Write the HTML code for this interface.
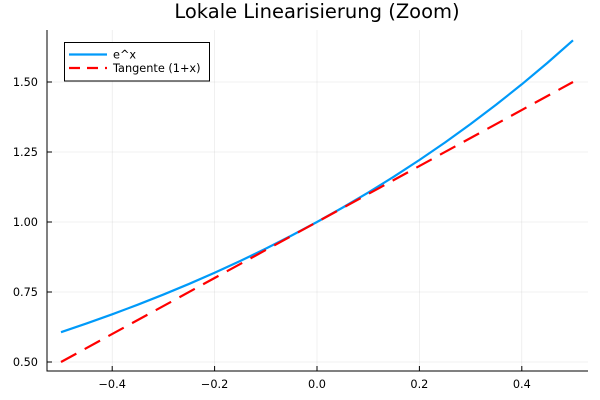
<!DOCTYPE html>
<html><head><meta charset="utf-8"><style>
html,body{margin:0;padding:0;background:#fff;}
svg{display:block;}
text{font-family:"DejaVu Sans","Liberation Sans",sans-serif;fill:#000;}
</style></head><body>
<svg width="600" height="400" viewBox="0 0 600 400" xmlns="http://www.w3.org/2000/svg">
<rect width="600" height="400" fill="#fff"/>
<!-- grid -->
<g stroke="#000" stroke-opacity="0.1" stroke-width="0.6">
<line x1="112.2" y1="30" x2="112.2" y2="371"/>
<line x1="214.6" y1="30" x2="214.6" y2="371"/>
<line x1="317" y1="30" x2="317" y2="371"/>
<line x1="419.4" y1="30" x2="419.4" y2="371"/>
<line x1="521.8" y1="30" x2="521.8" y2="371"/>
<line x1="47" y1="82" x2="588" y2="82"/>
<line x1="47" y1="152" x2="588" y2="152"/>
<line x1="47" y1="222" x2="588" y2="222"/>
<line x1="47" y1="292" x2="588" y2="292"/>
<line x1="47" y1="362" x2="588" y2="362"/>
</g>
<!-- axes -->
<g stroke="#000" stroke-width="1">
<line x1="47" y1="30" x2="47" y2="371.5"/>
<line x1="46.5" y1="371" x2="588" y2="371"/>
<line x1="112.2" y1="371" x2="112.2" y2="366"/>
<line x1="214.6" y1="371" x2="214.6" y2="366"/>
<line x1="317" y1="371" x2="317" y2="366"/>
<line x1="419.4" y1="371" x2="419.4" y2="366"/>
<line x1="521.8" y1="371" x2="521.8" y2="366"/>
<line x1="47" y1="82" x2="52" y2="82"/>
<line x1="47" y1="152" x2="52" y2="152"/>
<line x1="47" y1="222" x2="52" y2="222"/>
<line x1="47" y1="292" x2="52" y2="292"/>
<line x1="47" y1="362" x2="52" y2="362"/>
</g>
<!-- tick labels -->
<g font-size="11.3" text-anchor="end">
<text x="38" y="86">1.50</text>
<text x="38" y="156">1.25</text>
<text x="38" y="226">1.00</text>
<text x="38" y="296">0.75</text>
<text x="38" y="366">0.50</text>
</g>
<g font-size="11.3" text-anchor="middle">
<text x="112.2" y="388">−0.4</text>
<text x="214.6" y="388">−0.2</text>
<text x="317" y="388">0.0</text>
<text x="419.4" y="388">0.2</text>
<text x="521.8" y="388">0.4</text>
</g>
<!-- title -->
<text x="317" y="18" font-size="19.5" text-anchor="middle">Lokale Linearisierung (Zoom)</text>
<!-- series -->
<polyline fill="none" stroke="#009af9" stroke-width="2.2" stroke-linejoin="round" points="61,332.17 86.6,323.46 112.2,314.31 137.8,304.69 163.4,294.57 189,283.94 214.6,272.76 240.2,261.00 265.8,248.64 291.4,235.66 317,222 342.6,207.64 368.2,192.55 393.8,176.69 419.4,160.01 445,142.47 470.6,124.04 496.2,104.66 521.8,84.29 547.4,62.87 573,40.36"/>
<line x1="61" y1="362" x2="573" y2="82" stroke="#ff0000" stroke-width="2.2" stroke-dasharray="17.5 9.5"/>
<!-- legend -->
<rect x="64.5" y="42.5" width="145" height="38.5" fill="#fff" stroke="#000" stroke-width="1"/>
<line x1="69" y1="54.5" x2="107" y2="54.5" stroke="#009af9" stroke-width="2.2"/>
<line x1="69" y1="68" x2="107" y2="68" stroke="#ff0000" stroke-width="2.2" stroke-dasharray="11 7"/>
<text x="113" y="58.5" font-size="11.3">e^x</text>
<text x="113" y="72" font-size="11.3">Tangente (1+x)</text>
</svg>
</body></html>
